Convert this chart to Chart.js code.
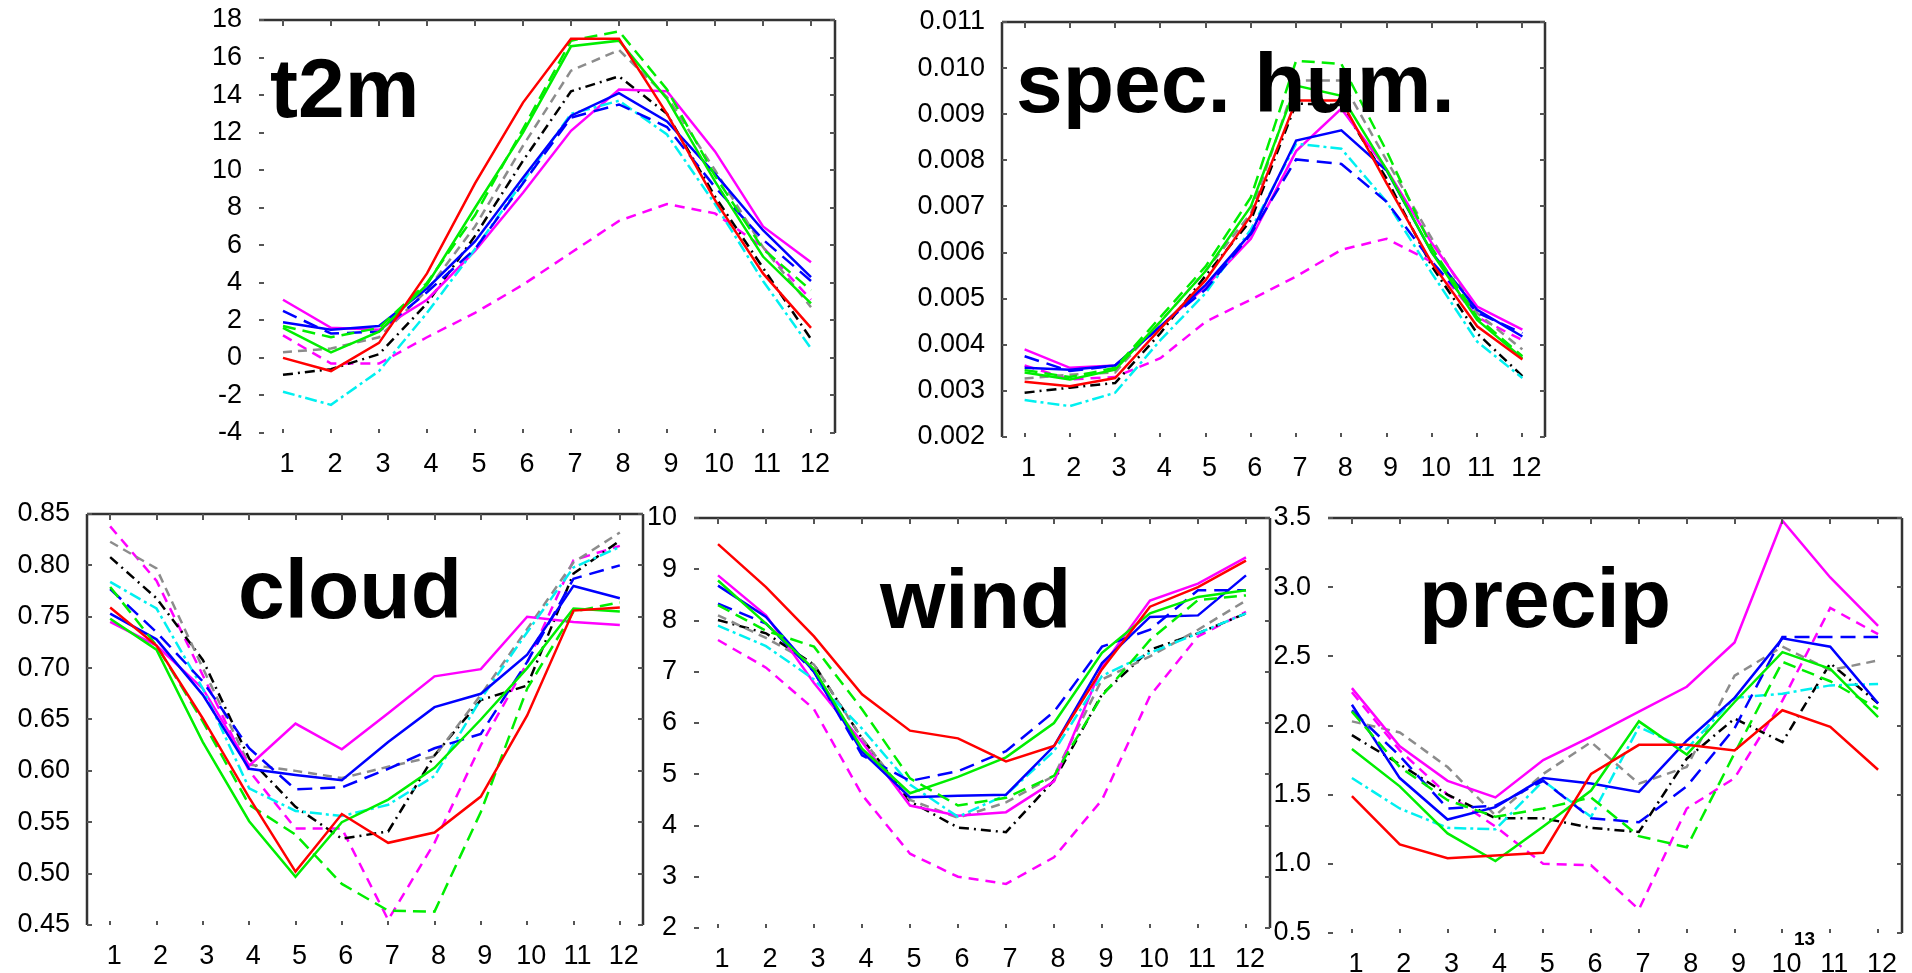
<!DOCTYPE html>
<html><head><meta charset="utf-8">
<script src="https://cdn.jsdelivr.net/npm/chart.js@4.4.1/dist/chart.umd.min.js"></script>
<style>
html,body{margin:0;padding:0;background:#fff;width:1912px;height:973px;overflow:hidden;position:relative}
canvas{position:absolute}
.ttl{position:absolute;font-family:"Liberation Sans",Arial,sans-serif;font-weight:bold;font-size:84px;line-height:84px;color:#000;white-space:nowrap;z-index:5}
.small{position:absolute;font-family:"Liberation Sans",Arial,sans-serif;font-weight:bold;font-size:19px;line-height:19px;color:#000;z-index:5}
</style></head><body>
<script>
// ---------- categories ----------
const months = ['1','2','3','4','5','6','7','8','9','10','11','12'];

// ---------- t2m ----------
const t2mRed         = [0.0, -0.7, 0.8, 4.5, 9.3, 13.6, 17.0, 17.0, 13.0, 8.4, 4.5, 1.6];
const t2mGreen       = [1.6, 0.3, 1.4, 3.9, 8.0, 12.0, 16.6, 16.9, 13.8, 9.4, 5.4, 2.9];
const t2mGreenDash   = [1.7, 1.1, 1.6, 4.0, 7.6, 12.2, 16.9, 17.4, 14.3, 9.7, 5.8, 3.6];
const t2mBlue        = [1.9, 1.5, 1.7, 3.7, 6.2, 9.6, 12.9, 14.1, 12.6, 9.8, 6.8, 4.3];
const t2mBlueDash    = [2.5, 1.3, 1.4, 3.5, 5.8, 9.3, 12.8, 13.5, 12.3, 9.1, 6.3, 4.1];
const t2mCyan        = [-1.8, -2.5, -0.7, 2.4, 5.8, 9.4, 13.0, 13.7, 11.9, 8.2, 4.1, 0.5];
const t2mMagenta     = [3.1, 1.6, 1.5, 3.1, 5.7, 8.8, 12.1, 14.3, 14.2, 11.0, 7.0, 5.1];
const t2mGray        = [0.3, 0.5, 1.1, 3.6, 7.0, 11.3, 15.3, 16.4, 13.9, 10.0, 5.9, 2.7];
const t2mBlack       = [-0.9, -0.6, 0.2, 2.9, 6.5, 10.5, 14.2, 15.0, 13.0, 8.6, 4.8, 1.0];
const t2mMagentaDash = [1.2, -0.3, -0.3, 1.1, 2.4, 3.9, 5.6, 7.3, 8.2, 7.7, 5.9, 3.1];

// ---------- specific humidity ----------
const qRed         = [0.0032, 0.0031, 0.00328, 0.00435, 0.0054, 0.0068, 0.0093, 0.0093, 0.00750, 0.00577, 0.0044, 0.00368];
const qGreen       = [0.0034, 0.00325, 0.00346, 0.0045, 0.0056, 0.0070, 0.00962, 0.0094, 0.0078, 0.0060, 0.00454, 0.00371];
const qGreenDash   = [0.00345, 0.0033, 0.0035, 0.0046, 0.0057, 0.0072, 0.01016, 0.01009, 0.0082, 0.0061, 0.0046, 0.00375];
const qBlue        = [0.0035, 0.00346, 0.00355, 0.0044, 0.0053, 0.00642, 0.00843, 0.00865, 0.00778, 0.0060, 0.00476, 0.00418];
const qBlueDash    = [0.00375, 0.00343, 0.00355, 0.0044, 0.0052, 0.0064, 0.00802, 0.00792, 0.0071, 0.0058, 0.0047, 0.00425];
const qCyan        = [0.0028, 0.00267, 0.00296, 0.0041, 0.00512, 0.0065, 0.00836, 0.00825, 0.0071, 0.00555, 0.00407, 0.00328];
const qMagenta     = [0.0039, 0.0035, 0.00355, 0.0044, 0.00526, 0.0063, 0.0082, 0.00912, 0.0078, 0.0062, 0.00483, 0.00433];
const qGray        = [0.00327, 0.00335, 0.0034, 0.0045, 0.0056, 0.00685, 0.00973, 0.00973, 0.0080, 0.0063, 0.00469, 0.0039];
const qBlack       = [0.00296, 0.00307, 0.00317, 0.00425, 0.0055, 0.0067, 0.00923, 0.0092, 0.0076, 0.0057, 0.00425, 0.00332];
const qMagentaDash = [0.00355, 0.00325, 0.0033, 0.00371, 0.0045, 0.00498, 0.00548, 0.00606, 0.00630, 0.0058, 0.0046, 0.0041];

// ---------- cloud ----------
const cRed         = [0.759, 0.722, 0.651, 0.574, 0.502, 0.558, 0.530, 0.540, 0.575, 0.654, 0.756, 0.759];
const cGreen       = [0.748, 0.718, 0.628, 0.551, 0.497, 0.550, 0.572, 0.603, 0.650, 0.700, 0.758, 0.755];
const cGreenDash   = [0.779, 0.722, 0.648, 0.567, 0.538, 0.490, 0.464, 0.463, 0.560, 0.680, 0.755, 0.764];
const cBlue        = [0.753, 0.728, 0.674, 0.602, 0.596, 0.591, 0.628, 0.662, 0.675, 0.713, 0.780, 0.768];
const cBlueDash    = [0.777, 0.735, 0.687, 0.622, 0.582, 0.584, 0.602, 0.622, 0.636, 0.706, 0.787, 0.800];
const cCyan        = [0.784, 0.758, 0.680, 0.583, 0.561, 0.556, 0.567, 0.595, 0.670, 0.735, 0.798, 0.818];
const cMagenta     = [0.745, 0.722, 0.680, 0.605, 0.646, 0.621, 0.656, 0.692, 0.699, 0.750, 0.745, 0.742];
const cGray        = [0.823, 0.797, 0.700, 0.606, 0.600, 0.593, 0.604, 0.614, 0.674, 0.738, 0.803, 0.832];
const cBlack       = [0.808, 0.768, 0.708, 0.612, 0.565, 0.534, 0.541, 0.615, 0.669, 0.683, 0.792, 0.824];
const cMagentaDash = [0.838, 0.785, 0.693, 0.600, 0.544, 0.544, 0.455, 0.530, 0.625, 0.705, 0.805, 0.819];

// ---------- wind ----------
const wRed         = [9.49, 8.65, 7.69, 6.56, 5.85, 5.70, 5.25, 5.55, 7.05, 8.27, 8.65, 9.17];
const wGreen       = [8.78, 7.94, 7.05, 5.50, 4.63, 4.95, 5.33, 6.00, 7.37, 8.14, 8.46, 8.59];
const wGreenDash   = [8.30, 7.80, 7.49, 6.27, 4.92, 4.39, 4.54, 4.97, 6.53, 7.62, 8.40, 8.49];
const wBlue        = [8.68, 8.07, 7.00, 5.44, 4.55, 4.58, 4.60, 5.55, 7.17, 8.07, 8.10, 8.88];
const wBlueDash    = [8.33, 7.94, 7.00, 5.37, 4.87, 5.06, 5.45, 6.22, 7.49, 7.82, 8.59, 8.59];
const wCyan        = [7.90, 7.50, 6.85, 5.89, 4.80, 4.17, 4.60, 5.45, 6.92, 7.37, 7.75, 8.14];
const wMagenta     = [8.88, 8.10, 6.78, 5.63, 4.39, 4.19, 4.26, 4.86, 7.10, 8.39, 8.72, 9.23];
const wGray        = [8.10, 7.66, 7.14, 5.70, 4.50, 4.15, 4.45, 4.97, 6.85, 7.30, 7.82, 8.39];
const wBlack       = [8.01, 7.75, 7.14, 5.70, 4.47, 3.96, 3.87, 4.88, 6.56, 7.43, 7.75, 8.14];
const wMagentaDash = [7.62, 7.08, 6.27, 4.60, 3.45, 3.00, 2.86, 3.38, 4.50, 6.53, 7.69, 8.17];

// ---------- precip ----------
const pRed         = [1.49, 1.14, 1.04, 1.06, 1.08, 1.65, 1.86, 1.86, 1.82, 2.11, 1.99, 1.68];
const pGreen       = [1.83, 1.56, 1.22, 1.02, 1.27, 1.53, 2.03, 1.79, 2.17, 2.53, 2.41, 2.06];
const pGreenDash   = [2.10, 1.70, 1.46, 1.34, 1.40, 1.48, 1.20, 1.12, 1.80, 2.46, 2.32, 2.12];
const pBlue        = [2.15, 1.62, 1.32, 1.41, 1.62, 1.58, 1.52, 1.89, 2.20, 2.63, 2.57, 2.16];
const pBlueDash    = [2.11, 1.78, 1.40, 1.42, 1.60, 1.33, 1.30, 1.56, 1.98, 2.64, 2.64, 2.64];
const pCyan        = [1.62, 1.40, 1.26, 1.25, 1.60, 1.34, 1.99, 1.83, 2.20, 2.23, 2.29, 2.30];
const pMagenta     = [2.27, 1.85, 1.60, 1.48, 1.75, 1.92, 2.10, 2.28, 2.60, 3.48, 3.07, 2.72];
const pGray        = [2.03, 1.95, 1.70, 1.35, 1.65, 1.88, 1.58, 1.70, 2.36, 2.57, 2.40, 2.47];
const pBlack       = [1.93, 1.72, 1.50, 1.33, 1.33, 1.26, 1.23, 1.76, 2.05, 1.88, 2.45, 2.16];
const pMagentaDash = [2.24, 1.82, 1.50, 1.27, 1.00, 0.99, 0.67, 1.40, 1.62, 2.18, 2.85, 2.66];

// ---------- series styles (same order in every panel) ----------
const seriesStyles = [
  {color:'#ff0000', dash:[]},
  {color:'#00ee00', dash:[]},
  {color:'#00ee00', dash:[13,7]},
  {color:'#0000ff', dash:[]},
  {color:'#0000ff', dash:[15,8]},
  {color:'#00f0f0', dash:[12,4,3,4]},
  {color:'#ff00ff', dash:[]},
  {color:'#8c8c8c', dash:[9,6]},
  {color:'#000000', dash:[10,5,2,5]},
  {color:'#ff00ff', dash:[10,7]}
];

const panels = [
  {title:'t2m', tx:270, ty:117, left:259, top:20, right:835, bottom:433, yMin:-4, yMax:18, yStep:2, dec:0, leftLine:false, rightLine:true,
   series:[t2mRed,t2mGreen,t2mGreenDash,t2mBlue,t2mBlueDash,t2mCyan,t2mMagenta,t2mGray,t2mBlack,t2mMagentaDash]},
  {title:'spec. hum.', tx:1016, ty:112, left:1002, top:22, right:1545, bottom:437, yMin:0.002, yMax:0.011, yStep:0.001, dec:3, leftLine:true, rightLine:true,
   series:[qRed,qGreen,qGreenDash,qBlue,qBlueDash,qCyan,qMagenta,qGray,qBlack,qMagentaDash]},
  {title:'cloud', tx:238, ty:618, left:87, top:514, right:643, bottom:925, yMin:0.45, yMax:0.85, yStep:0.05, dec:2, leftLine:true, rightLine:true,
   series:[cRed,cGreen,cGreenDash,cBlue,cBlueDash,cCyan,cMagenta,cGray,cBlack,cMagentaDash]},
  {title:'wind', tx:880, ty:628, left:694, top:518, right:1270, bottom:928, yMin:2, yMax:10, yStep:1, dec:0, leftLine:false, rightLine:true,
   series:[wRed,wGreen,wGreenDash,wBlue,wBlueDash,wCyan,wMagenta,wGray,wBlack,wMagentaDash]},
  {title:'precip', tx:1419, ty:627, left:1328, top:518, right:1902, bottom:933, yMin:0.5, yMax:3.5, yStep:0.5, dec:1, leftLine:false, rightLine:true,
   series:[pRed,pGreen,pGreenDash,pBlue,pBlueDash,pCyan,pMagenta,pGray,pBlack,pMagentaDash]}
];

function framePlugin(p){
  return {
    id:'frame',
    afterDraw(chart){
      const {ctx, chartArea:a, scales} = chart;
      const x = scales.x, y = scales.y;
      ctx.save();
      ctx.setLineDash([]);
      ctx.strokeStyle = '#333';
      ctx.lineWidth = 2.5;
      ctx.beginPath();
      ctx.moveTo(a.left, a.top); ctx.lineTo(a.right, a.top);
      if (p.rightLine){ ctx.moveTo(a.right, a.top); ctx.lineTo(a.right, a.bottom); }
      if (p.leftLine){ ctx.moveTo(a.left, a.top); ctx.lineTo(a.left, a.bottom); }
      ctx.stroke();
      ctx.strokeStyle = '#555';
      ctx.lineWidth = 2;
      ctx.beginPath();
      y.ticks.forEach(t=>{
        const py = Math.round(y.getPixelForValue(t.value));
        ctx.moveTo(a.left, py); ctx.lineTo(a.left+5, py);
        ctx.moveTo(a.right, py); ctx.lineTo(a.right-5, py);
      });
      x.ticks.forEach((t,i)=>{
        const px = Math.round(x.getPixelForTick(i));
        ctx.moveTo(px, a.top); ctx.lineTo(px, a.top+6);
        ctx.moveTo(px, a.bottom); ctx.lineTo(px, a.bottom-4);
      });
      ctx.stroke();
      ctx.restore();
    }
  };
}

function makePanel(p){
  const padL = 90, padT = 40, padR = 30, padB = 50;
  const cl = p.left - padL, ct = p.top - padT;
  const w = p.right - cl + padR, h = p.bottom - ct + padB;
  const cv = document.createElement('canvas');
  cv.width = w; cv.height = h;
  cv.style.left = cl + 'px'; cv.style.top = ct + 'px';
  cv.style.width = w + 'px'; cv.style.height = h + 'px';
  document.body.appendChild(cv);
  new Chart(cv, {
    type:'line',
    data:{
      labels: months,
      datasets: p.series.map((d,i)=>({
        data:d, borderColor:seriesStyles[i].color, borderDash:seriesStyles[i].dash,
        borderWidth:2.5, pointRadius:0, fill:false, tension:0
      }))
    },
    options:{
      responsive:false, animation:false, maintainAspectRatio:false,
      layout:{padding:{left:0, top:padT, right:padR, bottom:0}},
      plugins:{legend:{display:false}, tooltip:{enabled:false}, title:{display:false}},
      scales:{
        x:{type:'category', offset:true,
           grid:{display:false, drawTicks:false, offset:false}, border:{display:false},
           ticks:{font:{family:'Liberation Sans', size:27}, color:'#000', padding:15, labelOffset:4, maxRotation:0, autoSkip:false},
           afterFit(s){ s.height = padB; }},
        y:{type:'linear', min:p.yMin, max:p.yMax,
           grid:{display:false, drawTicks:false}, border:{display:false},
           ticks:{stepSize:p.yStep, font:{family:'Liberation Sans', size:27}, color:'#000', padding:17,
                  callback:(v)=>Number(v).toFixed(p.dec)},
           afterFit(s){ s.width = padL; }}
      }
    },
    plugins:[framePlugin(p)]
  });
  const t = document.createElement('div');
  t.className = 'ttl';
  t.textContent = p.title;
  t.style.left = p.tx + 'px';
  t.style.top = (p.ty - 71) + 'px';
  document.body.appendChild(t);
}

panels.forEach(makePanel);

const note = document.createElement('div');
note.className = 'small';
note.textContent = '13';
note.style.left = '1794px';
note.style.top = '929px';
document.body.appendChild(note);
</script>
</body></html>
